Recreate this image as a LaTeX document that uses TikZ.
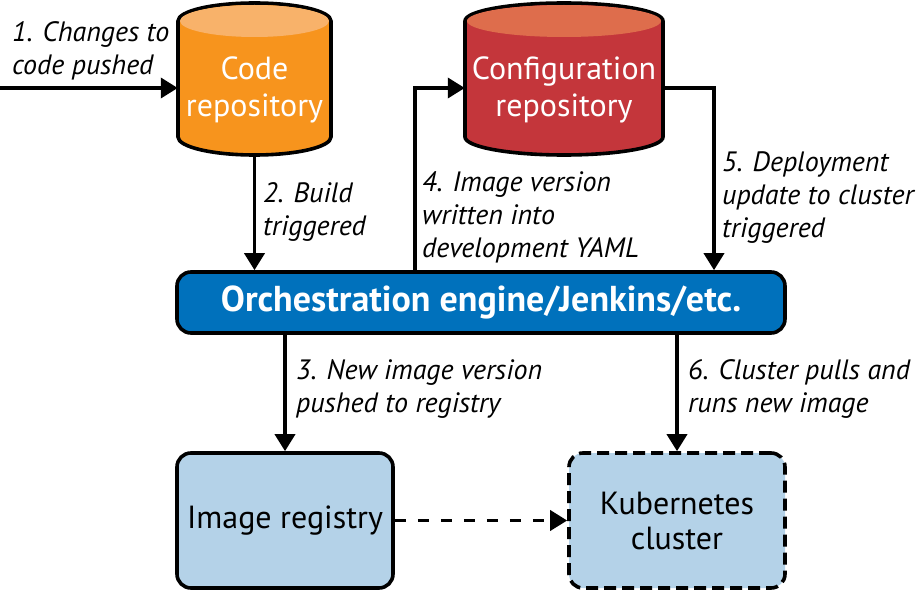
\documentclass[tikz,border=0pt]{standalone}
\usepackage{fontspec}
\setmainfont{PT Sans}
\usetikzlibrary{arrows.meta}
\definecolor{codebody}{HTML}{F7941D}
\definecolor{codetop}{HTML}{F8B26A}
\definecolor{confbody}{HTML}{C4363B}
\definecolor{conftop}{HTML}{DE6D4C}
\definecolor{orchblue}{HTML}{0071BC}
\definecolor{lightblue}{HTML}{B4D2E8}
\begin{document}
\begin{tikzpicture}[x=1pt,y=-1pt,
  arr/.style={line width=3.6pt,-{Triangle[length=17pt,width=20pt]}},
  cyltext/.style={text=white,font=\fontsize{32}{37}\selectfont,align=center,inner sep=0pt},
  lbl/.style={font=\fontsize{28}{33}\selectfont\itshape,align=left,anchor=base west,inner sep=0pt},
  box/.style={draw=black,line width=3.6pt,rounded corners=14pt,fill=lightblue,font=\fontsize{32}{35}\selectfont,align=center}]
\useasboundingbox (0,0) rectangle (918,591);

% cylinders
\fill[codebody,draw=black,line width=3.6pt] (178,21) -- (178,137) arc (180:0:76.5 and 18) -- (331,21) arc (0:-180:76.5 and 18) -- cycle;
\fill[codetop] (254.5,21) ellipse (74.5 and 16);
\fill[confbody,draw=black,line width=3.6pt] (465,21) -- (465,137) arc (180:0:99 and 18) -- (663,21) arc (0:-180:99 and 18) -- cycle;
\fill[conftop] (564,21) ellipse (97 and 16);
\node[cyltext,minimum width=153pt,minimum height=152pt] (code) at (254.5,79) {};
\node[cyltext] (codetxt) at (254.5,90) {Code\\repository};
\node[cyltext,minimum width=198pt,minimum height=152pt] (conf) at (564,79) {};
\node[cyltext] (conftxt) at (564,90) {Configuration\\repository};

% boxes
\node[box,fill=orchblue,text=white,minimum width=608pt,minimum height=61pt,font=\fontsize{36}{36}\selectfont\bfseries] (orch) at (481,302.5) {Orchestration engine/Jenkins/etc.};
\node[box,minimum width=216pt,minimum height=135pt] (reg) at (285,520.5) {Image registry};
\node[box,dash pattern=on 12pt off 6pt,minimum width=216pt,minimum height=135pt] (kube) at (677,520.5) {Kubernetes\\cluster};

% connectors
\coordinate (in) at (0,88);
\coordinate (a4) at (415,88);
\coordinate (a5) at (714,88);
\draw[arr] (in) -- (in -| code.west);
\draw[arr] (code.south) -- (code.south |- orch.north);
\draw[arr,line join=miter] (a4 |- orch.north) -- (a4) -- (a4 -| conf.west);
\draw[arr,line join=miter] (a5 -| conf.east) -- (a5) -- (a5 |- orch.north);
\draw[arr] (reg.north |- orch.south) -- (reg.north);
\draw[arr] (kube.north |- orch.south) -- (kube.north);
\draw[arr,dash pattern=on 11pt off 12pt] (reg.east) -- (kube.west);

% labels (base = baseline of last line)
\node[lbl] (l1) at (12,75) {1. Changes to\\code pushed};
\node[lbl] (l2) at (263,235) {2. Build\\triggered};
\node[lbl] (l3) at (296,412) {3. New image version\\pushed to registry};
\node[lbl] (l4) at (422,257) {4. Image version\\written into\\development YAML};
\node[lbl] (l5) at (722,237) {5. Deployment\\update to cluster\\triggered};
\node[lbl] (l6) at (688,412) {6. Cluster pulls and\\runs new image};
\end{tikzpicture}
\end{document}
